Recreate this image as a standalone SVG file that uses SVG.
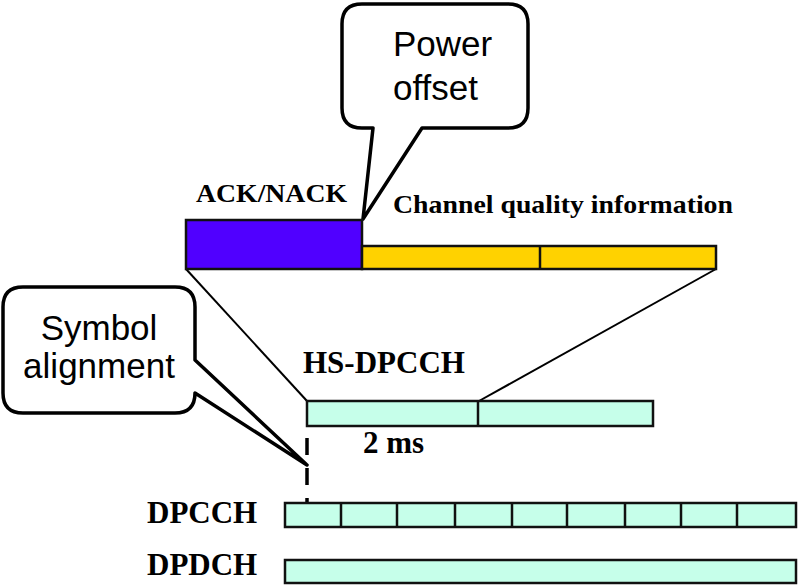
<svg xmlns="http://www.w3.org/2000/svg" width="800" height="587" viewBox="0 0 800 587">
<style>
.lbl{font-family:"Liberation Serif","Times New Roman",serif;font-weight:bold;fill:#000}
.cl{font-family:"Liberation Sans",Arial,sans-serif;font-size:35px;fill:#000}
.callout{fill:#fff;stroke:#000;stroke-width:3.5;stroke-linejoin:round}
.box{stroke:#111;stroke-width:2.5}
.mint{fill:#C6FFEA}
.conn{stroke:#000;stroke-width:2;fill:none}
</style>
<rect width="800" height="587" fill="#fff"/>
<g id="connectors">
<line class="conn" x1="186" y1="269" x2="307" y2="401"/>
<line class="conn" x1="716" y1="269" x2="479" y2="401"/>
<line x1="307" y1="438" x2="307" y2="504" stroke="#000" stroke-width="3.5" stroke-dasharray="17 13"/>
</g>
<g id="power-offset">
<path class="callout" d="M362,4 H508 Q528,4 528,24 V108 Q528,128 508,128 H422 L363,219 L373,128 H362 Q342,128 342,108 V24 Q342,4 362,4 Z"/>
<text class="cl" x="393" y="56">Power</text>
<text class="cl" x="393" y="100">offset</text>
</g>
<g id="symbol-alignment">
<path class="callout" d="M23,287 H175 Q195,287 195,307 V360 L307,465 L195,393 Q195,413 175,413 H23 Q3,413 3,393 V307 Q3,287 23,287 Z"/>
<text class="cl" x="99" y="340" text-anchor="middle">Symbol</text>
<text class="cl" x="99" y="378" text-anchor="middle">alignment</text>
</g>
<g id="ack-nack">
<text class="lbl" x="196" y="202" font-size="26" textLength="151" lengthAdjust="spacingAndGlyphs">ACK/NACK</text>
<rect class="box" x="186" y="220" width="176" height="49" fill="#5000FF"/>
</g>
<g id="cqi">
<text class="lbl" x="393" y="213" font-size="26" textLength="340" lengthAdjust="spacingAndGlyphs">Channel quality information</text>
<rect class="box" x="362" y="246" width="354" height="23" fill="#FFD200"/>
<line class="box" x1="540" y1="246" x2="540" y2="269"/>
</g>
<g id="hs-dpcch">
<text class="lbl" x="303" y="373" font-size="31">HS-DPCCH</text>
<rect class="box mint" x="307" y="401" width="346" height="25"/>
<line class="box" x1="478" y1="401" x2="478" y2="426"/>
<text class="lbl" x="363" y="453" font-size="31">2 ms</text>
</g>
<g id="dpcch">
<text class="lbl" x="147" y="523" font-size="31">DPCCH</text>
<rect class="box mint" x="285" y="503" width="511" height="24"/>
<path class="box" fill="none" d="M341,503V527M397,503V527M455,503V527M512,503V527M567,503V527M625,503V527M681,503V527M737,503V527"/>
</g>
<g id="dpdch">
<text class="lbl" x="147" y="575" font-size="31">DPDCH</text>
<rect class="box mint" x="285" y="560" width="511" height="23"/>
</g>
</svg>
